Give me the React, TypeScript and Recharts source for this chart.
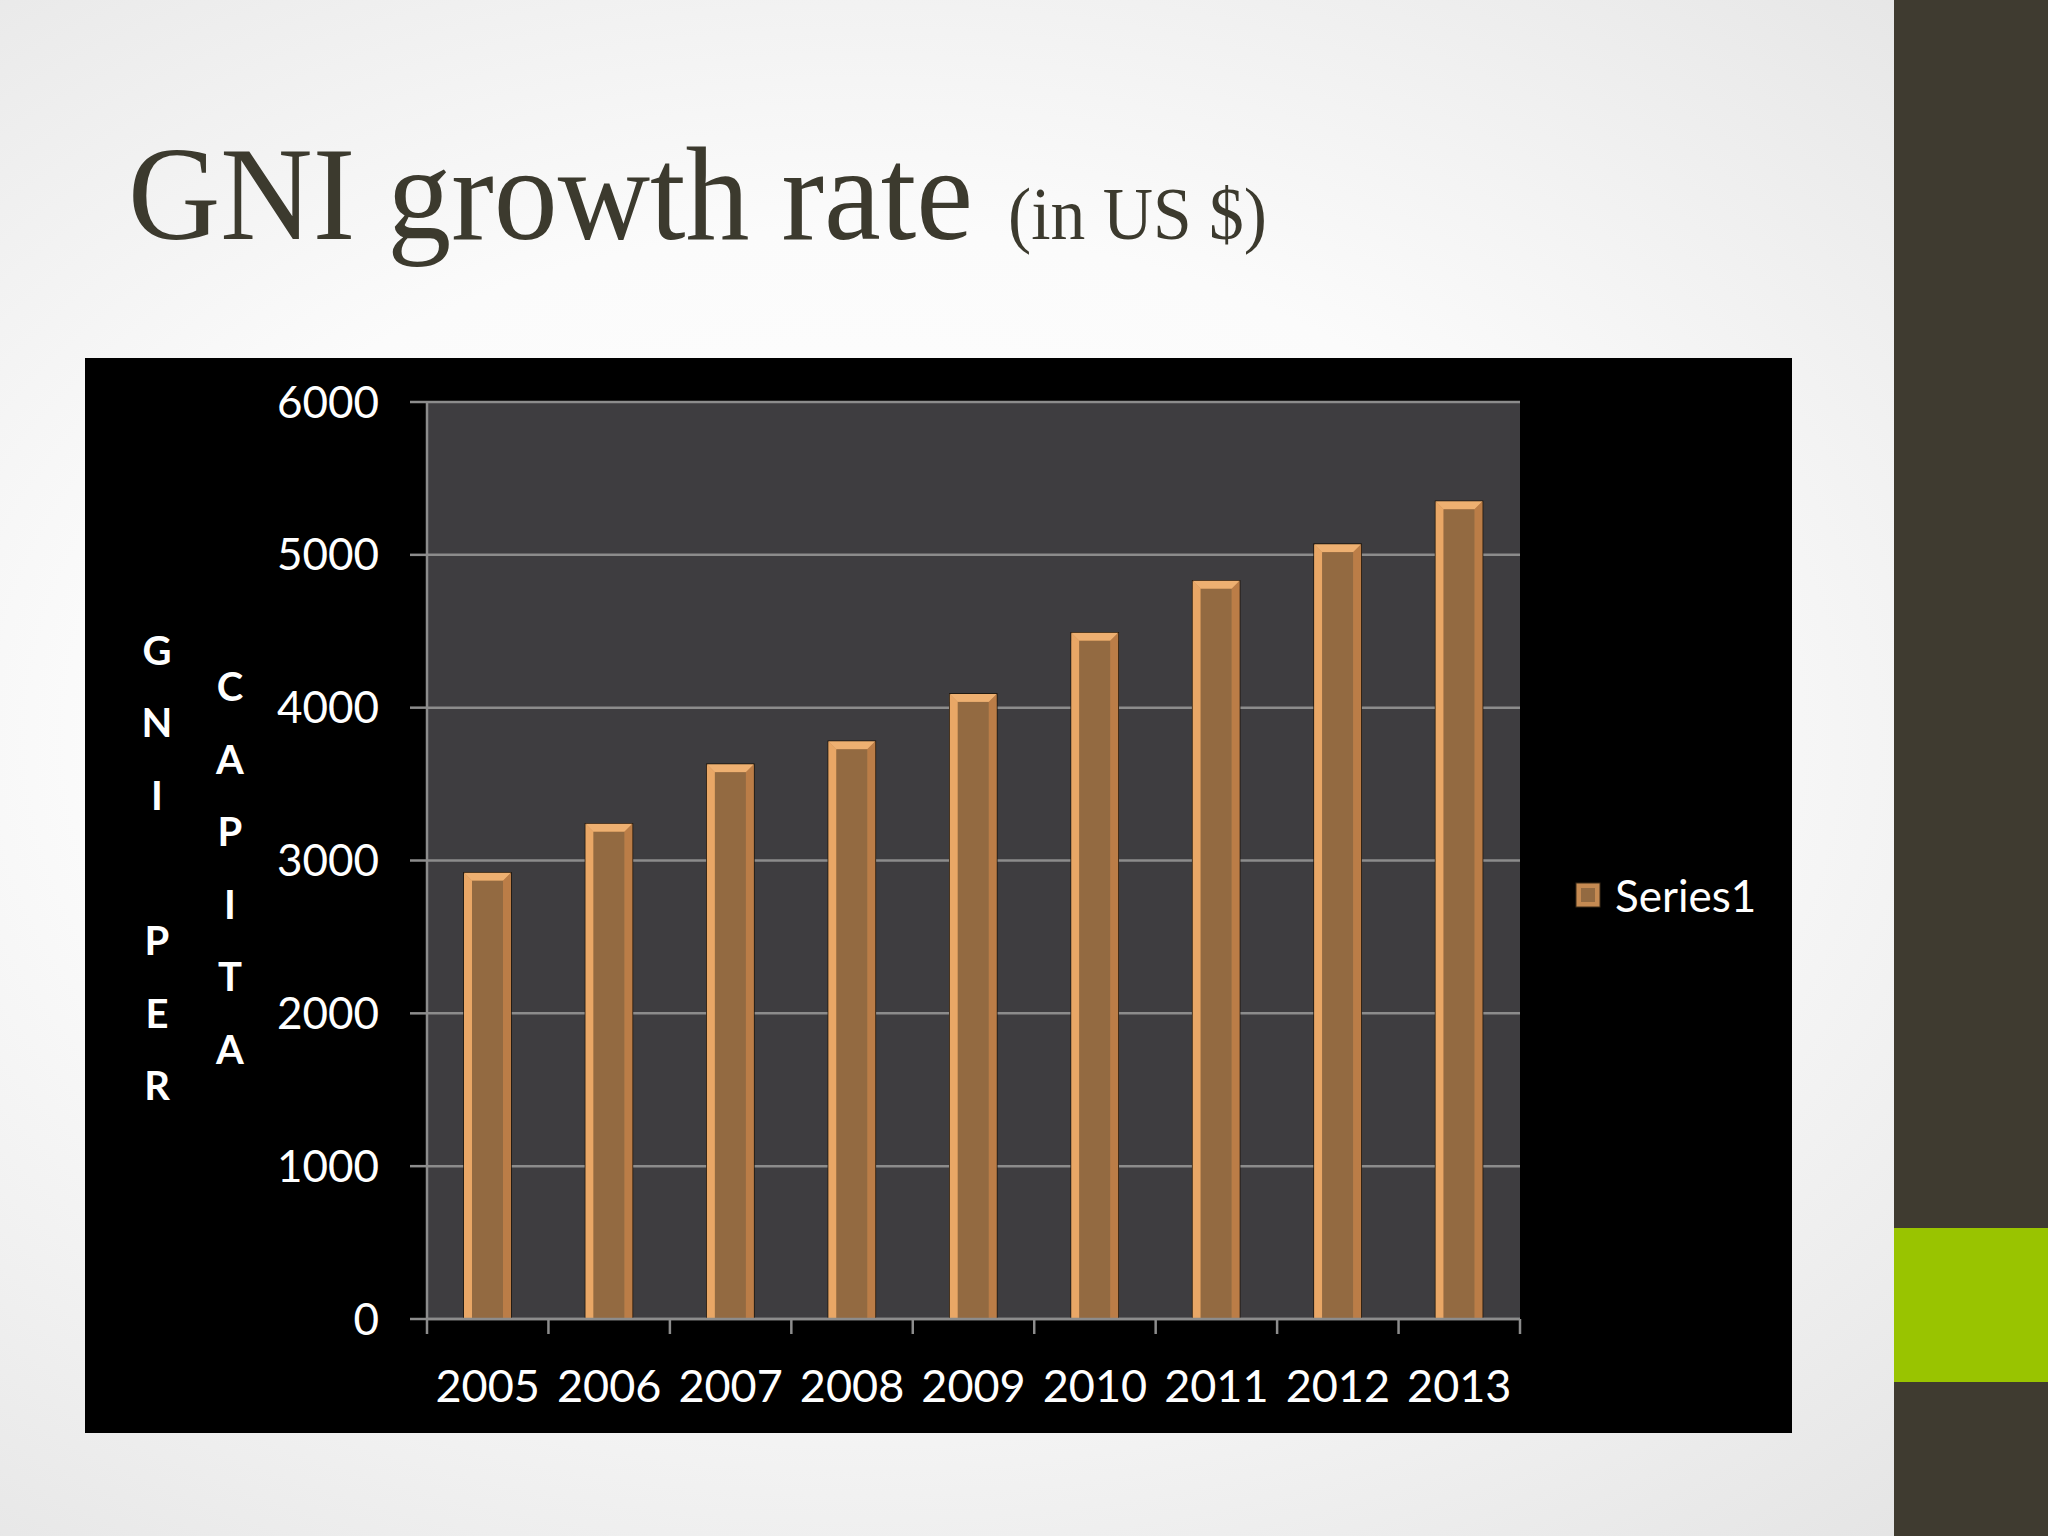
import React from "react";
import {
  BarChart,
  Bar,
  XAxis,
  YAxis,
  CartesianGrid,
  Legend,
} from "recharts";

// values
const years = ["2005", "2006", "2007", "2008", "2009", "2010", "2011", "2012", "2013"];
const gniPerCapita = [2920, 3240, 3630, 3780, 4090, 4490, 4830, 5070, 5350];
const yTicks = [0, 1000, 2000, 3000, 4000, 5000, 6000];
const titleLeftColumn = ["G", "N", "I", "", "P", "E", "R"];
const titleRightColumn = ["C", "A", "P", "I", "T", "A"];

const data = years.map((year, i) => ({ year, Series1: gniPerCapita[i] }));

const LABEL_FONT = "Lato, 'Open Sans', sans-serif";
const GRID = "#8c8c8c";

// bar with the bevelled edges the office chart uses
const BevelBar = (props: any) => {
  const { x, y, width, height } = props;
  if (!height || height <= 0) return null;
  const b = 8;
  return (
    <g>
      <rect x={x} y={y} width={width} height={height} fill="#c58a52" stroke="#1b1309" strokeWidth={1.5} />
      <polygon points={`${x},${y} ${x + b},${y + b} ${x + b},${y + height} ${x},${y + height}`} fill="#e9a766" />
      <polygon points={`${x},${y} ${x + width},${y} ${x + width - b},${y + b} ${x + b},${y + b}`} fill="#eeb071" />
      <polygon points={`${x + width},${y} ${x + width},${y + height} ${x + width - b},${y + height} ${x + width - b},${y + b}`} fill="#bb7d47" />
      <rect x={x + b} y={y + b} width={width - 2 * b} height={height - b} fill="#936a41" />
    </g>
  );
};

const YearTick = (props: any) => {
  const { x, y, payload, index, visibleTicksCount } = props;
  const half = payload?.offset || 60.7;
  const last = index === (visibleTicksCount ?? years.length) - 1;
  return (
    <g>
      <line x1={x - half} y1={y} x2={x - half} y2={y + 15} stroke={GRID} strokeWidth={2.5} />
      {last && <line x1={x + half} y1={y} x2={x + half} y2={y + 15} stroke={GRID} strokeWidth={2.5} />}
      <text x={x} y={y + 66} textAnchor="middle" dominantBaseline="central" fill="#ffffff" fontSize={45} fontFamily={LABEL_FONT}>
        {payload.value}
      </text>
    </g>
  );
};

const AxisTitle = (props: any) => {
  const vb = props.viewBox || { x: 20, y: 44, width: 322, height: 917 };
  const step = 72.6;
  const cy = vb.y + vb.height / 2 + 7;
  const column = (letters: string[], cx: number) =>
    letters.map((ch, i) => (
      <text
        key={cx + "-" + i}
        x={cx}
        y={cy + (i - (letters.length - 1) / 2) * step}
        textAnchor="middle"
        dominantBaseline="central"
        fill="#ffffff"
        fontSize={40}
        fontWeight={700}
        fontFamily={LABEL_FONT}
      >
        {ch}
      </text>
    ));
  return (
    <g>
      {column(titleLeftColumn, vb.x + 52)}
      {column(titleRightColumn, vb.x + 125)}
    </g>
  );
};

const LegendContent = (props: any) => {
  const item = (props.payload || [])[0];
  return (
    <div style={{ display: "flex", alignItems: "center", fontFamily: LABEL_FONT }}>
      <svg width={26} height={26} style={{ marginRight: 14 }}>
        <rect x={1} y={1} width={24} height={24} fill="#c58a52" stroke="#3a2a18" strokeWidth={1} />
        <rect x={6} y={6} width={14} height={14} fill="#936a41" />
      </svg>
      <span style={{ color: "#ffffff", fontSize: 44, lineHeight: "52px" }}>{item ? item.value : "Series1"}</span>
    </div>
  );
};

export default function App() {
  return (
    <div
      style={{
        position: "absolute",
        left: 0,
        top: 0,
        width: 2048,
        height: 1536,
        overflow: "hidden",
        background: "radial-gradient(ellipse at 42% 48%, #ffffff 0%, #fbfbfb 45%, #e2e2e2 100%)",
      }}
    >
      <svg width={1894} height={300} style={{ position: "absolute", left: 0, top: 0 }}>
        <text x={128} y={239} fontFamily="'Liberation Serif', 'DejaVu Serif', serif" fontSize={134} fill="#3c3a2e" textLength={845} lengthAdjust="spacingAndGlyphs">
          GNI growth rate
        </text>
        <text x={1008} y={239} fontFamily="'Liberation Serif', 'DejaVu Serif', serif" fontSize={74} fill="#3c3a2e" textLength={259} lengthAdjust="spacingAndGlyphs">
          (in US $)
        </text>
      </svg>

      <div style={{ position: "absolute", left: 1894, top: 0, width: 154, height: 1536, background: "#3f3b30" }} />
      <div style={{ position: "absolute", left: 1894, top: 1228, width: 154, height: 154, background: "#99c400" }} />

      <div style={{ position: "absolute", left: 85, top: 358, width: 1707, height: 1075, background: "#000000" }}>
        <BarChart
          width={1707}
          height={1075}
          data={data}
          margin={{ top: 44, right: 272, bottom: 0, left: 20 }}
          barSize={47}
        >
          <CartesianGrid vertical={false} stroke={GRID} strokeWidth={2.5} fill="#3e3d40" fillOpacity={1} />
          <XAxis
            dataKey="year"
            height={114}
            interval={0}
            tickSize={0}
            tickMargin={0}
            tickLine={false}
            axisLine={{ stroke: GRID, strokeWidth: 2.5 }}
            tick={<YearTick />}
          />
          <YAxis
            width={322}
            domain={[0, 6000]}
            ticks={yTicks}
            interval={0}
            tickSize={17}
            tickMargin={31}
            axisLine={{ stroke: GRID, strokeWidth: 2.5 }}
            tickLine={{ stroke: GRID, strokeWidth: 2.5 }}
            tick={{ fill: "#ffffff", fontSize: 44, fontFamily: LABEL_FONT }}
            label={{ content: <AxisTitle /> }}
          />
          <Legend
            layout="horizontal"
            verticalAlign="middle"
            align="center"
            content={<LegendContent />}
            wrapperStyle={{ left: 1490, top: 511, width: "auto" }}
          />
          <Bar dataKey="Series1" name="Series1" fill="#936a41" shape={<BevelBar />} isAnimationActive={false} />
        </BarChart>
      </div>
    </div>
  );
}
